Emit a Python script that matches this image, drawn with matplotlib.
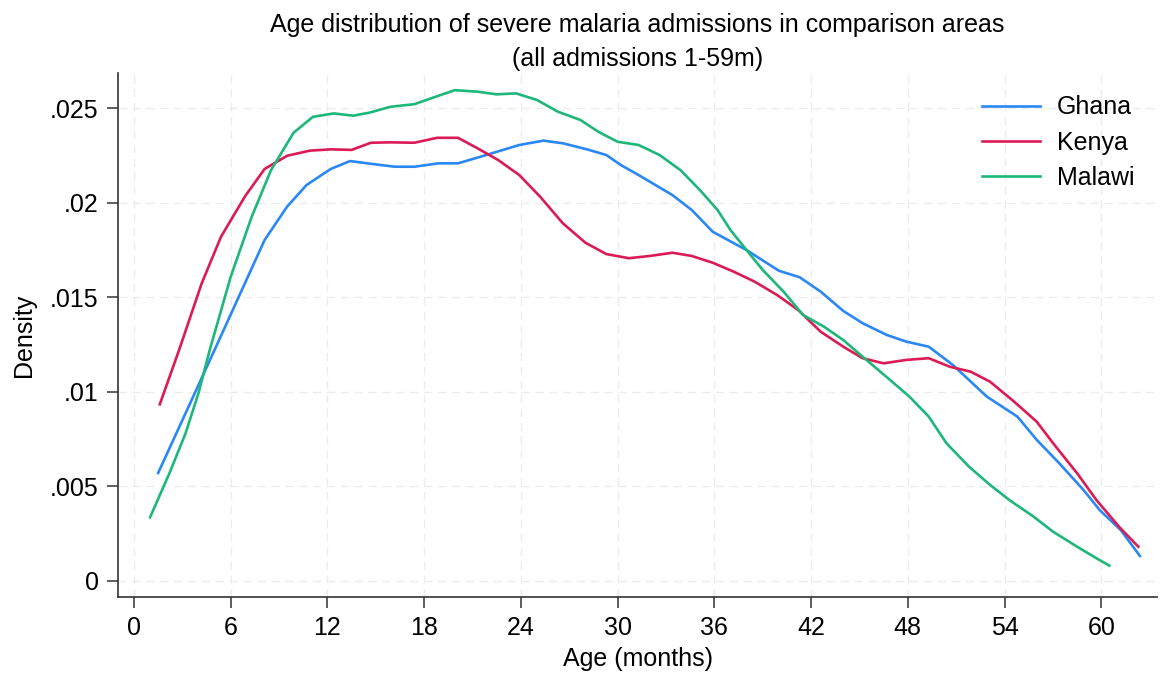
import matplotlib
matplotlib.use("Agg")
import matplotlib.pyplot as plt

plt.rcParams['font.family'] = ['Liberation Sans', 'DejaVu Sans']

# kernel density estimates
ghana_age = [1.5, 5.0, 8.1, 9.5, 10.7, 12.2, 13.4, 15.3, 16.2, 17.4, 18.9, 20.1, 21.5,
             23.9, 25.4, 26.6, 28.1, 29.3, 30.2, 31.4, 33.4, 34.6, 35.9, 38.0, 40.0,
             41.3, 42.6, 44.0, 45.2, 46.7, 47.9, 49.3, 50.8, 52.9, 54.8, 56.0, 57.4,
             58.9, 59.9, 61.2, 62.4]
ghana_dens = [.00571, .01222, .01803, .0198, .02094, .02179, .02221, .0220, .02191, .02191,
              .02209, .02209, .02244, .02306, .02329, .02315, .02283, .02253, .0220, .02142,
              .02041, .01962, .01847, .0175, .01641, .01606, .0153, .01428, .01363, .01301,
              .01266, .01239, .01142, .00975, .00869, .00746, .00622, .00481, .00375, .0027,
              .00132]

kenya_age = [1.6, 2.8, 4.2, 5.4, 6.9, 8.1, 9.5, 10.9, 12.2, 13.5, 14.7, 15.9, 17.4, 18.8,
             20.1, 21.3, 22.6, 23.9, 25.2, 26.6, 28.0, 29.3, 30.7, 32.0, 33.4, 34.6, 35.9,
             37.2, 38.5, 39.9, 41.2, 42.6, 44.0, 45.2, 46.5, 47.9, 49.3, 50.6, 51.9, 53.1,
             54.6, 56.0, 57.1, 58.5, 59.7, 61.1, 62.3]
kenya_dens = [.00934, .01222, .01574, .01821, .02036, .02179, .02249, .02276, .02283, .0228,
              .02318, .0232, .02318, .02344, .02344, .02289, .02226, .02147, .02032, .01892,
              .01789, .01729, .01707, .01719, .01736, .01719, .01683, .01636, .01583, .01512,
              .01433, .01318, .01239, .01178, .01151, .01169, .01178, .01133, .01107, .01054,
              .00948, .00842, .00719, .0057, .00428, .00287, .00181]

malawi_age = [1.0, 2.2, 3.2, 4.0, 4.7, 6.0, 7.3, 8.5, 9.9, 11.1, 12.4, 13.6, 14.6, 15.9,
              17.4, 18.7, 19.9, 21.3, 22.5, 23.7, 25.0, 26.3, 27.7, 28.8, 30.0, 31.3, 32.6,
              33.9, 35.1, 36.2, 37.0, 38.0, 39.0, 40.3, 41.5, 42.8, 44.0, 45.2, 46.9, 48.1,
              49.3, 50.4, 51.8, 53.1, 54.3, 55.8, 57.0, 58.5, 59.7, 60.5]
malawi_dens = [.00337, .0057, .00781, .00993, .01222, .01609, .01926, .02173, .02371, .02455,
               .02473, .02461, .02477, .02508, .02522, .02561, .02596, .02588, .02574, .02579,
               .02544, .02482, .02438, .02376, .02323, .02306, .02253, .02173, .02068, .01962,
               .01856, .0175, .01645, .0153, .01407, .01345, .01274, .01186, .01063, .00975,
               .00869, .00728, .00604, .00508, .00428, .0034, .00261, .00181, .0012, .00081]

x_ticks = [0, 6, 12, 18, 24, 30, 36, 42, 48, 54, 60]
y_ticks = [0, .005, .01, .015, .02, .025]
y_labels = ["0", ".005", ".01", ".015", ".02", ".025"]

fig = plt.figure(figsize=(11.64, 6.75), dpi=100)
ax = fig.add_axes([0.1014, 0.1156, 0.8926, 0.7763])

ax.plot(ghana_age, ghana_dens, color="#2a88f5", lw=1.9, label="Ghana")
ax.plot(kenya_age, kenya_dens, color="#dc1a55", lw=1.9, label="Kenya")
ax.plot(malawi_age, malawi_dens, color="#1db77a", lw=1.9, label="Malawi")

ax.set_xlim(-0.99, 63.46)
ax.set_ylim(-0.00085, 0.02687)
ax.set_xticks(x_ticks)
ax.set_yticks(y_ticks)
ax.set_yticklabels(y_labels)
ax.grid(True, color="#ececec", ls=(0, (6, 4)), lw=1.0)
ax.set_axisbelow(True)

for s in ["top", "right"]:
    ax.spines[s].set_visible(False)
for s in ["left", "bottom"]:
    ax.spines[s].set_color("#333333")
    ax.spines[s].set_linewidth(1.2)
ax.tick_params(length=8, width=1.1, color="#333333", labelsize=18, pad=6)

ax.set_xlabel("Age (months)", fontsize=18, labelpad=5)
ax.set_ylabel("Density", fontsize=18, labelpad=10)
ax.set_title("Age distribution of severe malaria admissions in comparison areas\n(all admissions 1-59m)",
             fontsize=18, linespacing=1.55, pad=5)

ax.legend(loc="upper right", frameon=False, fontsize=18, handlelength=2.3,
          handletextpad=0.7, bbox_to_anchor=(1.0, 1.0), labelspacing=0.45)

fig.savefig("out.png", dpi=100)
